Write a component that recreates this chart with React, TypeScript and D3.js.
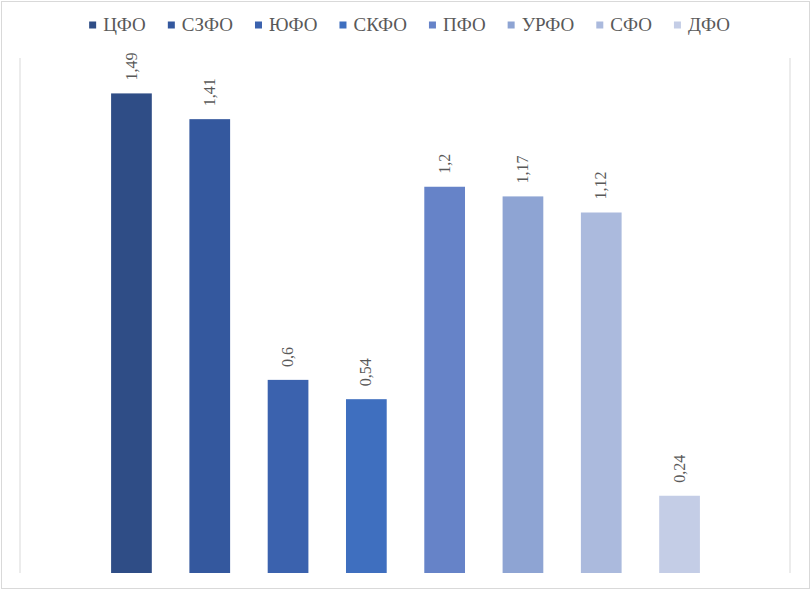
import React, { useMemo } from "react";
import * as d3 from "d3";

const categories = ["ЦФО", "СЗФО", "ЮФО", "СКФО", "ПФО", "УРФО", "СФО", "ДФО"];
const values = [1.49, 1.41, 0.6, 0.54, 1.2, 1.17, 1.12, 0.24];
const labels = ["1,49", "1,41", "0,6", "0,54", "1,2", "1,17", "1,12", "0,24"];
const colors = ["#2F4D86", "#34589E", "#3B62AE", "#3F6FBF", "#6683C8", "#8EA4D3", "#ABBADD", "#C4CDE6"];

const W = 811;
const H = 592;
const FONT = "Liberation Serif";

export default function App() {
  const plotLeft = 20, plotRight = 790, plotTop = 58, plotBottom = 573;

  const x = d3.scaleBand<string>()
    .domain(categories)
    .range([92.3, 718.7])
    .paddingInner(0.48)
    .paddingOuter(0.24);
  const y = d3.scaleLinear().domain([0, 1.6]).range([plotBottom, plotTop]);

  const sq = 7, gapSq = 7, gapItem = 22, legendFont = 19;
  const legend = useMemo(() => {
    const canvas = document.createElement("canvas");
    const ctx = canvas.getContext("2d")!;
    ctx.font = `${legendFont}px "Liberation Serif"`;
    const widths = categories.map((c) => ctx.measureText(c).width);
    let cur = 0;
    const offs: number[] = [];
    widths.forEach((w) => {
      offs.push(cur);
      cur += sq + gapSq + w + gapItem;
    });
    const total = cur - gapItem;
    const start = 409.5 - total / 2;
    return offs.map((o) => start + o);
  }, []);

  return (
    <svg
      width={W}
      height={H}
      style={{ position: "absolute", left: 0, top: 0, background: "#fff", fontFamily: FONT }}
    >
      <rect x={1.5} y={1.5} width={W - 3} height={H - 5} fill="#fff" stroke="#D9D9D9" />
      {[plotLeft, plotRight].map((lx) => (
        <line key={lx} x1={lx} x2={lx} y1={plotTop} y2={plotBottom} stroke="#D9D9D9" />
      ))}
      {values.map((v, i) => (
        <rect
          key={categories[i]}
          x={x(categories[i])}
          width={x.bandwidth()}
          y={y(v)}
          height={y(0) - y(v)}
          fill={colors[i]}
        />
      ))}
      {values.map((v, i) => {
        const cx = x(categories[i])! + x.bandwidth() / 2;
        const cy = y(v) - 13;
        return (
          <text
            key={"l" + i}
            transform={`translate(${cx},${cy}) rotate(-90)`}
            textAnchor="start"
            dy="0.32em"
            fill="#595959"
            style={{ fontFamily: FONT, fontSize: 16 }}
          >
            {labels[i]}
          </text>
        );
      })}
      {categories.map((c, i) => (
        <g key={"lg" + c} transform={`translate(${legend[i]},25)`}>
          <rect width={sq} height={sq} y={-sq / 2} fill={colors[i]} />
          <text
            x={sq + gapSq}
            dy="0.34em"
            fill="#595959"
            style={{ fontFamily: FONT, fontSize: legendFont }}
          >
            {c}
          </text>
        </g>
      ))}
    </svg>
  );
}
